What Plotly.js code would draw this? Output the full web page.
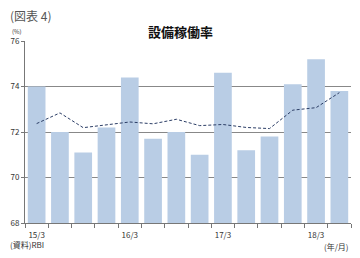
<!DOCTYPE html>
<html><head><meta charset="utf-8">
<script src="https://cdn.plot.ly/plotly-3.0.1.min.js"></script>
<style>html,body{margin:0;padding:0;background:#fff;}#chart{width:360px;height:258px;}</style>
</head><body><div id="chart"></div>
<script>
const categories = ['15/3','15/6','15/9','15/12','16/3','16/6','16/9','16/12','17/3','17/6','17/9','17/12','18/3','18/6'];
const tickLabels = ['15/3','','','','16/3','','','','17/3','','','','18/3',''];
const utilization = [74.0,72.0,71.1,72.2,74.4,71.7,72.0,71.0,74.6,71.2,71.8,74.1,75.2,73.8];
const trendLine = [72.37,72.84,72.19,72.32,72.44,72.36,72.56,72.28,72.33,72.2,72.15,72.96,73.07,73.73];

const font = 'Noto Sans CJK JP, Noto Sans, sans-serif';
const data = [
  {type:'bar', x:categories, y:utilization, marker:{color:'#b9cde5'}, hoverinfo:'none'},
  {type:'scatter', mode:'lines', x:categories, y:trendLine, line:{color:'#2c3e66', width:1, dash:'3px,2px'}, hoverinfo:'none'}
];
const layout = {
  width:360, height:258,
  margin:{l:25, r:9, t:41, b:35},
  paper_bgcolor:'#fff', plot_bgcolor:'#fff',
  showlegend:false, bargap:0.24,
  font:{family:font, color:'#333', size:8},
  xaxis:{type:'category', tickmode:'array', tickvals:categories, ticktext:tickLabels,
    tickson:'boundaries', ticks:'outside', ticklen:4, tickcolor:'#777', tickangle:0,
    ticklabelstandoff:4,
    showline:true, linecolor:'#777', linewidth:1, showgrid:false,
    tickfont:{size:8, color:'#333'}, fixedrange:true},
  yaxis:{range:[68,76], dtick:2, showgrid:true, gridcolor:'#888', gridwidth:1,
    showline:true, linecolor:'#777', ticks:'outside', ticklen:3, tickcolor:'#777',
    tickfont:{size:8, color:'#333'}, zeroline:false, fixedrange:true},
  annotations:[
    {text:'<b>設備稼働率</b>', x:180, y:32, showarrow:false, font:{size:13, color:'#111', family:font}, xanchor:'center', yanchor:'middle'},
    {text:'(図表 4)', x:8, y:15, showarrow:false, font:{size:12, color:'#555', family:font}, xanchor:'left', yanchor:'middle'},
    {text:'(%)', x:10, y:32, showarrow:false, font:{size:6, color:'#333', family:font}, xanchor:'left', yanchor:'middle'},
    {text:'(資料)RBI', x:8, y:244, showarrow:false, font:{size:8, color:'#333', family:font}, xanchor:'left', yanchor:'middle'},
    {text:'(年/月)', x:351, y:246, showarrow:false, font:{size:8, color:'#333', family:font}, xanchor:'right', yanchor:'middle'}
  ]
};
layout.annotations.forEach(a=>{
  a.xref='paper'; a.x = (a.x - 25)/(360-25-9);
  a.yref='paper'; a.y = 1 - (a.y - 41)/(258-41-35);
});
Plotly.newPlot('chart', data, layout, {displayModeBar:false, staticPlot:true});
</script></body></html>
